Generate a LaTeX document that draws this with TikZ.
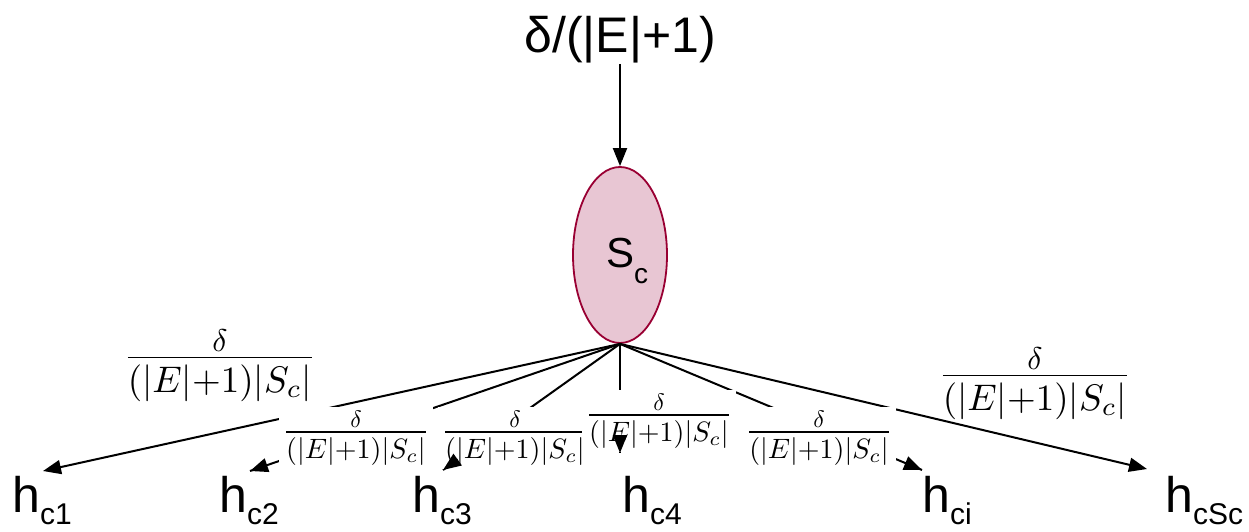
\documentclass[tikz,border=0pt]{standalone}
\usepackage[no-math]{fontspec}
\usepackage{graphicx}
\newfontfamily\arial{Liberation Sans}
\usetikzlibrary{shapes.geometric,arrows.meta,calc}
\definecolor{maroon}{RGB}{153,0,51}
\definecolor{pinkfill}{RGB}{232,198,211}
\newcommand{\myfrac}{$\displaystyle\frac{\lower2.7pt\hbox{\scalebox{0.85}{$\delta$}}}{(|E|{+}1)|S_c|}$}
\newcommand{\hlab}[1]{h\raisebox{-12pt}{\fontsize{30}{32}\selectfont #1}}
\tikzset{
  hl/.style={font=\arial\fontsize{50}{56}\selectfont, inner sep=0pt, anchor=base west},
  frbig/.style={scale=3.7, inner sep=0.5pt, anchor=base},
  frsmall/.style={scale=2.8, fill=white, inner sep=1.3pt, anchor=base},
  conn/.style={line width=2pt},
  arr/.style={line width=2pt, -{Triangle[length=18pt,width=14pt]}}
}
\begin{document}
\begin{tikzpicture}[x=1pt,y=-1pt]
\useasboundingbox (0,0) rectangle (1249,532);
% top text and set
\node[font=\arial\fontsize{50}{56}\selectfont, inner sep=0pt, anchor=base] (top) at (620,53) {δ/(|E|+1)};
\node[ellipse, draw=maroon, fill=pinkfill, line width=1.8pt, minimum width=94pt, minimum height=176pt, inner sep=0pt] (S) at (620,255) {};
\node[font=\arial\fontsize{42}{46}\selectfont, anchor=base west, inner sep=0pt] (Sl) at (606,267) {S\raisebox{-16pt}{\fontsize{28}{30}\selectfont c}};
\draw[arr] (top) -- (S);
% targets
\node[hl] (h1) at (12,512) {\hlab{c1}};
\node[hl] (h2) at (219,512) {\hlab{c2}};
\node[hl] (h3) at (412,512) {\hlab{c3}};
\node[hl] (h4) at (622,512) {\hlab{c4}};
\node[hl] (hi) at (922,512) {\hlab{ci}};
\node[hl] (hS) at (1165,512) {\hlab{cSc}};
\coordinate (t1) at (43,471);
\coordinate (t2) at (250,471);
\coordinate (t3) at (443,470);
\coordinate (t4) at (620,453);
\coordinate (ti) at (922,470);
\coordinate (tS) at (1147,469);
% connectors
\draw[arr] (S.south) -- (t1);
\draw[arr] (S.south) -- (tS);
\draw[conn] (S.south) -- (t2);
\draw[conn] (S.south) -- (t3);
\draw[conn] (S.south) -- (t4);
\draw[conn] (S.south) -- (ti);
% labels
\node[frbig] (f1) at (220,367) {\myfrac};
\node[frbig] (fS) at (1035,385) {\myfrac};
\node[frsmall] (f2) at (356,439) {\myfrac};
\node[frsmall] (f3) at (515,439) {\myfrac};
\node[frsmall] (f4) at (659,422) {\myfrac};
\node[frsmall] (fi) at (819,439) {\myfrac};
% arrow tips over the labels
\draw[arr] ($(t2)!18pt!(S.south)$) -- (t2);
\draw[arr] ($(t3)!18pt!(S.south)$) -- (t3);
\draw[arr] ($(t4)!18pt!(S.south)$) -- (t4);
\draw[arr] ($(ti)!18pt!(S.south)$) -- (ti);
\end{tikzpicture}
\end{document}
